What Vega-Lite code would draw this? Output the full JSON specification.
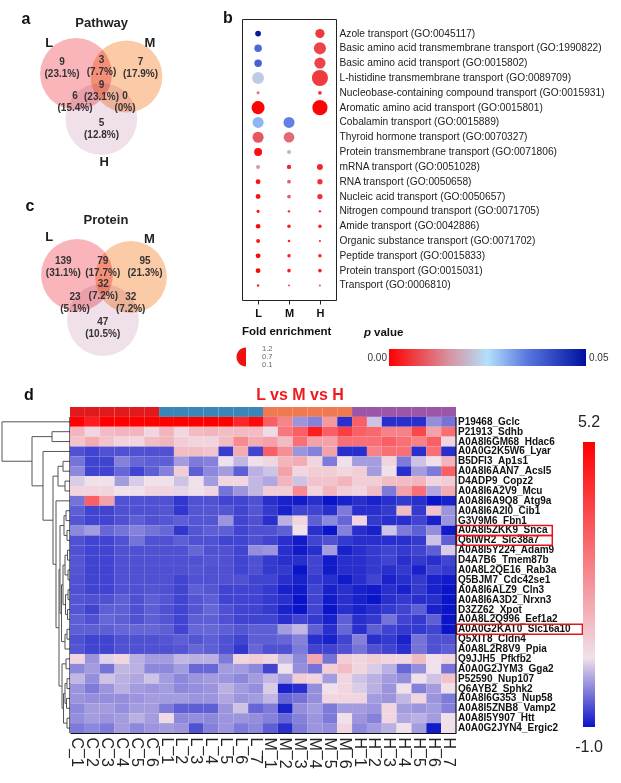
{
"$schema":"https://vega.github.io/schema/vega-lite/v6.json",
"padding":0,
"background":"white",
"usermeta":{"embedOptions":{"actions":false}},
"config":{"font":"Liberation Sans","view":{"stroke":null},"text":{"font":"Liberation Sans"},"axis":{"labelFont":"Liberation Sans"},"title":{"font":"Liberation Sans"}},
"resolve":{"scale":{"color":"independent","fill":"independent","size":"independent"},"legend":{"color":"independent","fill":"independent","size":"independent"}},
"spacing":2,
"vconcat":[
{"hconcat":[
 {"width":236,"height":385,
  "encoding":{"x":{"field":"x","type":"quantitative","scale":{"domain":[0,236],"nice":false},"axis":null},"y":{"field":"y","type":"quantitative","scale":{"domain":[0,385],"reverse":true,"nice":false},"axis":null}},
  "layer":[
   {"data":{"values":[{"set":"L","x":76,"y":74},{"set":"M","x":126.5,"y":76.5},{"set":"H","x":101.3,"y":119},{"set":"L","x":77,"y":275},{"set":"M","x":131,"y":277},{"set":"H","x":103,"y":320}]},
    "mark":{"type":"point","shape":"circle","filled":true,"opacity":1,"size":5153,"blend":"multiply","strokeWidth":0},
    "encoding":{"fill":{"field":"set","type":"nominal","scale":{"domain":["L","M","H"],"range":["#f9b5b9","#fbcaa6","#f0e0ea"]},"legend":null}}},
   {"data":{"name":"vcounts","values":[{"x":62,"y":61.5,"n":"9","pct":"(23.1%)"},{"x":101.5,"y":60,"n":"3","pct":"(7.7%)"},{"x":140.5,"y":62,"n":"7","pct":"(17.9%)"},{"x":101.5,"y":84.5,"n":"9","pct":"(23.1%)"},{"x":75,"y":95.5,"n":"6","pct":"(15.4%)"},{"x":125,"y":96,"n":"0","pct":"(0%)"},{"x":101.5,"y":122.5,"n":"5","pct":"(12.8%)"},{"x":63.3,"y":260.7,"n":"139","pct":"(31.1%)"},{"x":102.7,"y":260.7,"n":"79","pct":"(17.7%)"},{"x":145,"y":260.7,"n":"95","pct":"(21.3%)"},{"x":103.3,"y":284,"n":"32","pct":"(7.2%)"},{"x":75,"y":296.7,"n":"23","pct":"(5.1%)"},{"x":130.7,"y":296.7,"n":"32","pct":"(7.2%)"},{"x":102.7,"y":321.7,"n":"47","pct":"(10.5%)"}]},
    "mark":{"type":"text","fontSize":10,"fontWeight":"bold","color":"#333","baseline":"middle","align":"center"},
    "encoding":{"text":{"field":"n"}}},
   {"data":{"name":"vcounts"},
    "mark":{"type":"text","fontSize":10,"fontWeight":"bold","color":"#333","baseline":"middle","align":"center","dy":12},
    "encoding":{"text":{"field":"pct"}}},
   {"data":{"values":[{"x":101.7,"y":23.3,"t":"Pathway"},{"x":49.3,"y":43.3,"t":"L"},{"x":150,"y":43.3,"t":"M"},{"x":104.3,"y":162.3,"t":"H"},{"x":106,"y":220,"t":"Protein"},{"x":49.3,"y":237.3,"t":"L"},{"x":149.3,"y":239.3,"t":"M"}]},
    "mark":{"type":"text","fontSize":13,"fontWeight":"bold","color":"#222","baseline":"middle","align":"center"},
    "encoding":{"text":{"field":"t"}}},
   {"data":{"values":[{"x":26,"y":19,"t":"a"},{"x":228,"y":18,"t":"b"},{"x":30,"y":206,"t":"c"}]},
    "mark":{"type":"text","fontSize":16,"fontWeight":"bold","color":"#111","baseline":"middle","align":"center"},
    "encoding":{"text":{"field":"t"}}}
  ]},
 {"vconcat":[
   {"width":94,"height":19,"data":{"values":[{}]},"mark":{"type":"point","opacity":0},"encoding":{}},
   {"width":94,"height":281,
    "view":{"stroke":"#222","strokeWidth":1},
    "data":{"values":[
{"t":"Azole transport (GO:0045117)","grp":"L","fe":0.14,"p":0.049},
{"t":"Azole transport (GO:0045117)","grp":"H","fe":0.36,"p":0.006},
{"t":"Basic amino acid transmembrane transport (GO:1990822)","grp":"L","fe":0.24,"p":0.037},
{"t":"Basic amino acid transmembrane transport (GO:1990822)","grp":"H","fe":0.62,"p":0.007},
{"t":"Basic amino acid transport (GO:0015802)","grp":"L","fe":0.24,"p":0.038},
{"t":"Basic amino acid transport (GO:0015802)","grp":"H","fe":0.53,"p":0.007},
{"t":"L-histidine transmembrane transport (GO:0089709)","grp":"L","fe":0.6,"p":0.0225},
{"t":"L-histidine transmembrane transport (GO:0089709)","grp":"H","fe":1.1,"p":0.006},
{"t":"Nucleobase-containing compound transport (GO:0015931)","grp":"L","fe":0.04,"p":0.012},
{"t":"Nucleobase-containing compound transport (GO:0015931)","grp":"H","fe":0.06,"p":0.005},
{"t":"Aromatic amino acid transport (GO:0015801)","grp":"L","fe":0.72,"p":0.0005},
{"t":"Aromatic amino acid transport (GO:0015801)","grp":"H","fe":0.98,"p":0.0005},
{"t":"Cobalamin transport (GO:0015889)","grp":"L","fe":0.52,"p":0.029},
{"t":"Cobalamin transport (GO:0015889)","grp":"M","fe":0.52,"p":0.034},
{"t":"Thyroid hormone transport (GO:0070327)","grp":"L","fe":0.52,"p":0.009},
{"t":"Thyroid hormone transport (GO:0070327)","grp":"M","fe":0.48,"p":0.011},
{"t":"Protein transmembrane transport (GO:0071806)","grp":"L","fe":0.27,"p":0.0015},
{"t":"Protein transmembrane transport (GO:0071806)","grp":"M","fe":0.07,"p":0.019},
{"t":"mRNA transport (GO:0051028)","grp":"L","fe":0.07,"p":0.016},
{"t":"mRNA transport (GO:0051028)","grp":"M","fe":0.08,"p":0.004},
{"t":"mRNA transport (GO:0051028)","grp":"H","fe":0.15,"p":0.004},
{"t":"RNA transport (GO:0050658)","grp":"L","fe":0.1,"p":0.002},
{"t":"RNA transport (GO:0050658)","grp":"M","fe":0.06,"p":0.01},
{"t":"RNA transport (GO:0050658)","grp":"H","fe":0.12,"p":0.005},
{"t":"Nucleic acid transport (GO:0050657)","grp":"L","fe":0.1,"p":0.002},
{"t":"Nucleic acid transport (GO:0050657)","grp":"M","fe":0.06,"p":0.01},
{"t":"Nucleic acid transport (GO:0050657)","grp":"H","fe":0.12,"p":0.005},
{"t":"Nitrogen compound transport (GO:0071705)","grp":"L","fe":0.045,"p":0.002},
{"t":"Nitrogen compound transport (GO:0071705)","grp":"M","fe":0.025,"p":0.004},
{"t":"Nitrogen compound transport (GO:0071705)","grp":"H","fe":0.025,"p":0.003},
{"t":"Amide transport (GO:0042886)","grp":"L","fe":0.09,"p":0.001},
{"t":"Amide transport (GO:0042886)","grp":"M","fe":0.05,"p":0.003},
{"t":"Amide transport (GO:0042886)","grp":"H","fe":0.05,"p":0.003},
{"t":"Organic substance transport (GO:0071702)","grp":"L","fe":0.065,"p":0.002},
{"t":"Organic substance transport (GO:0071702)","grp":"M","fe":0.03,"p":0.004},
{"t":"Organic substance transport (GO:0071702)","grp":"H","fe":0.02,"p":0.004},
{"t":"Peptide transport (GO:0015833)","grp":"L","fe":0.1,"p":0.001},
{"t":"Peptide transport (GO:0015833)","grp":"M","fe":0.05,"p":0.003},
{"t":"Peptide transport (GO:0015833)","grp":"H","fe":0.05,"p":0.003},
{"t":"Protein transport (GO:0015031)","grp":"L","fe":0.1,"p":0.001},
{"t":"Protein transport (GO:0015031)","grp":"M","fe":0.055,"p":0.003},
{"t":"Protein transport (GO:0015031)","grp":"H","fe":0.055,"p":0.003},
{"t":"Transport (GO:0006810)","grp":"L","fe":0.025,"p":0.003},
{"t":"Transport (GO:0006810)","grp":"M","fe":0.013,"p":0.004},
{"t":"Transport (GO:0006810)","grp":"H","fe":0.013,"p":0.004}
    ]},
    "mark":{"type":"circle","opacity":1},
    "encoding":{
     "x":{"field":"grp","type":"nominal","scale":{"type":"point","domain":["L","M","H"],"padding":0.52},"axis":{"orient":"bottom","title":null,"labelAngle":0,"labelFontWeight":"bold","labelFontSize":11,"labelColor":"#111","domain":false,"ticks":true,"tickSize":4,"tickColor":"#222","labelPadding":3}},
     "y":{"field":"t","type":"nominal","sort":null,"scale":{"type":"band","paddingInner":0,"paddingOuter":0.48},"axis":{"orient":"right","title":null,"domain":false,"ticks":false,"labelFontSize":10.2,"labelColor":"#222","labelPadding":3,"labelLimit":400}},
     "size":{"field":"fe","type":"quantitative","scale":{"domain":[0,1.2],"range":[0,283]},"legend":null},
     "color":{"field":"p","type":"quantitative","scale":{"domain":[0,0.015,0.025,0.035,0.05],"range":["#ff0000","#d8909e","#b4e0fb","#5878e0","#0010a0"],"interpolate":"rgb"},"legend":{"orient":"none","legendX":147,"legendY":330,"direction":"horizontal","gradientLength":197,"gradientThickness":17,"title":null,"labelOpacity":0,"gradientStrokeWidth":0}}
    }},
   {"width":370,"height":72,
    "encoding":{"x":{"field":"x","type":"quantitative","scale":{"domain":[0,370],"nice":false},"axis":null},"y":{"field":"y","type":"quantitative","scale":{"domain":[0,72],"reverse":true,"nice":false},"axis":null}},
    "layer":[
     {"data":{"values":[{"x":0,"y":32,"t":"Fold enrichment"},{"x":132,"y":33,"t":"value"}]},"mark":{"type":"text","align":"left","baseline":"middle","fontWeight":"bold","fontSize":11.5,"color":"#111"},"encoding":{"text":{"field":"t"}}},
     {"data":{"values":[{"x":122,"y":33,"t":"p"}]},"mark":{"type":"text","align":"left","baseline":"middle","fontWeight":"bold","fontStyle":"italic","fontSize":11.5,"color":"#111"},"encoding":{"text":{"field":"t"}}},
     {"data":{"values":[{"x":145,"y":58,"t":"0.00"}]},"mark":{"type":"text","align":"right","baseline":"middle","fontSize":10,"color":"#333"},"encoding":{"text":{"field":"t"}}},
     {"data":{"values":[{"x":347,"y":58,"t":"0.05"}]},"mark":{"type":"text","align":"left","baseline":"middle","fontSize":10,"color":"#333"},"encoding":{"text":{"field":"t"}}},
     {"data":{"values":[{"x":20,"y":49,"t":"1.2"},{"x":20,"y":57,"t":"0.7"},{"x":20,"y":65,"t":"0.1"}]},"mark":{"type":"text","align":"left","baseline":"middle","fontSize":7.5,"color":"#666"},"encoding":{"text":{"field":"t"}}},
     {"data":{"values":[{"x":4,"y":57}]},"mark":{"type":"point","shape":"M0,-1A1,1,0,0,0,0,1Z","filled":true,"opacity":1,"size":361,"color":"#ee1111","strokeWidth":0}}
    ]}
  ],"spacing":0,"bounds":"flush","resolve":{"scale":{"color":"independent","size":"independent"}}}
],"spacing":0,"resolve":{"scale":{"color":"independent","fill":"independent","size":"independent"},"legend":{"color":"independent","fill":"independent","size":"independent"}}},
{"hconcat":[
 {"width":70,"height":326,
  "title":{"text":"d","anchor":"start","dx":24,"fontSize":16,"fontWeight":"bold","color":"#111","offset":4},
  "data":{"values":[
{"h":68,"a":0,"b":3.99,"ha":0,"hb":38},{"h":38,"a":1.5,"b":6.48,"ha":18,"hb":27},{"h":18,"a":1,"b":2,"ha":0,"hb":0},{"h":27,"a":3,"b":9.96,"ha":0,"hb":17},{"h":17,"a":5.5,"b":14.42,"ha":12,"hb":14},{"h":12,"a":4.5,"b":6.5,"ha":7,"hb":5},{"h":7,"a":4,"b":5,"ha":0,"hb":0},{"h":5,"a":6,"b":7,"ha":0,"hb":0},{"h":14,"a":8,"b":20.84,"ha":0,"hb":11},{"h":11,"a":14.94,"b":26.75,"ha":10,"hb":8},{"h":10,"a":10.5,"b":19.38,"ha":6,"hb":8.5},{"h":6,"a":9.5,"b":11.5,"ha":4,"hb":3},{"h":4,"a":9,"b":10,"ha":0,"hb":0},{"h":3,"a":11,"b":12,"ha":0,"hb":0},{"h":8.5,"a":16.5,"b":22.25,"ha":7,"hb":5},{"h":7,"a":14.5,"b":18.5,"ha":5,"hb":4.5},{"h":5,"a":13.5,"b":15.5,"ha":2.5,"hb":2},{"h":2.5,"a":13,"b":14,"ha":0,"hb":0},{"h":2,"a":15,"b":16,"ha":0,"hb":0},{"h":4.5,"a":17.5,"b":19.5,"ha":2,"hb":2.5},{"h":2,"a":17,"b":18,"ha":0,"hb":0},{"h":2.5,"a":19,"b":20,"ha":0,"hb":0},{"h":5,"a":21.5,"b":23,"ha":3,"hb":0},{"h":3,"a":21,"b":22,"ha":0,"hb":0},{"h":8,"a":24.5,"b":29,"ha":4,"hb":6.5},{"h":4,"a":24,"b":25,"ha":0,"hb":0},{"h":6.5,"a":27.5,"b":30.5,"ha":5,"hb":3},{"h":5,"a":26.5,"b":28.5,"ha":3,"hb":3.5},{"h":3,"a":26,"b":27,"ha":0,"hb":0},{"h":3.5,"a":28,"b":29,"ha":0,"hb":0},{"h":3,"a":30,"b":31,"ha":0,"hb":0}
  ]},
  "encoding":{"x":{"field":"h","type":"quantitative","scale":{"domain":[0,70],"reverse":true,"nice":false},"axis":null},"y":{"field":"a","type":"quantitative","scale":{"domain":[-1.5,31.5],"reverse":true,"nice":false,"zero":false},"axis":null}},
  "layer":[
   {"mark":{"type":"rule","color":"#555","strokeWidth":1},"encoding":{"y2":{"field":"b"}}},
   {"mark":{"type":"rule","color":"#555","strokeWidth":1},"encoding":{"x2":{"field":"ha"}}},
   {"mark":{"type":"rule","color":"#555","strokeWidth":1},"encoding":{"y":{"field":"b","type":"quantitative"},"x2":{"field":"hb"}}},
   {"data":{"values":[{"h":0,"a":-0.5,"b":31.5}]},"mark":{"type":"rule","color":"#111","strokeWidth":1.2},"encoding":{"y2":{"field":"b"}}}
  ]},
 {"width":386,"height":326,
  "title":{"text":"L vs M vs H","anchor":"middle","dx":37,"fontSize":16,"fontWeight":"bold","color":"#f0191e","offset":4},
  "encoding":{"x":{"field":"s","type":"nominal","scale":{"type":"band","domain":["C_1","C_2","C_3","C_4","C_5","C_6","L_1","L_2","L_3","L_4","L_5","L_6","L_7","M_1","M_2","M_3","M_4","M_5","M_6","H_1","H_2","H_3","H_4","H_5","H_6","H_7"],"paddingInner":0,"paddingOuter":0},"axis":{"orient":"bottom","title":null,"labelAngle":90,"labelFontSize":16,"labelColor":"#222","ticks":false,"domain":true,"domainColor":"#111","domainWidth":1,"labelPadding":4}}},
  "layer":[
   {"data":{"values":[{"s":"C_1","grp":"C"},{"s":"C_2","grp":"C"},{"s":"C_3","grp":"C"},{"s":"C_4","grp":"C"},{"s":"C_5","grp":"C"},{"s":"C_6","grp":"C"},{"s":"L_1","grp":"L"},{"s":"L_2","grp":"L"},{"s":"L_3","grp":"L"},{"s":"L_4","grp":"L"},{"s":"L_5","grp":"L"},{"s":"L_6","grp":"L"},{"s":"L_7","grp":"L"},{"s":"M_1","grp":"M"},{"s":"M_2","grp":"M"},{"s":"M_3","grp":"M"},{"s":"M_4","grp":"M"},{"s":"M_5","grp":"M"},{"s":"M_6","grp":"M"},{"s":"H_1","grp":"H"},{"s":"H_2","grp":"H"},{"s":"H_3","grp":"H"},{"s":"H_4","grp":"H"},{"s":"H_5","grp":"H"},{"s":"H_6","grp":"H"},{"s":"H_7","grp":"H"}]},
    "mark":{"type":"rect"},
    "encoding":{"y":{"datum":"_annot","type":"nominal","axis":null},"fill":{"field":"grp","type":"nominal","scale":{"domain":["C","L","M","H"],"range":["#e0191c","#3a86b8","#ee7a52","#9b56a8"]},"legend":null}}},
   {"data":{"values":[
{"g":"Gclc","s":"C_1","v":5.2},{"g":"Gclc","s":"C_2","v":4.6},{"g":"Gclc","s":"C_3","v":5.2},{"g":"Gclc","s":"C_4","v":5.2},{"g":"Gclc","s":"C_5","v":5.2},{"g":"Gclc","s":"C_6","v":5.2},{"g":"Gclc","s":"L_1","v":5.2},{"g":"Gclc","s":"L_2","v":5.2},{"g":"Gclc","s":"L_3","v":5.2},{"g":"Gclc","s":"L_4","v":5.2},{"g":"Gclc","s":"L_5","v":5.2},{"g":"Gclc","s":"L_6","v":4.4},{"g":"Gclc","s":"L_7","v":5.0},{"g":"Gclc","s":"M_1","v":3.2},{"g":"Gclc","s":"M_2","v":2.4},{"g":"Gclc","s":"M_3","v":-0.05},{"g":"Gclc","s":"M_4","v":-0.2},{"g":"Gclc","s":"M_5","v":2.0},{"g":"Gclc","s":"M_6","v":-0.8},{"g":"Gclc","s":"H_1","v":3.2},{"g":"Gclc","s":"H_2","v":0.28},{"g":"Gclc","s":"H_3","v":-0.8},{"g":"Gclc","s":"H_4","v":-0.8},{"g":"Gclc","s":"H_5","v":-0.8},{"g":"Gclc","s":"H_6","v":-0.1},{"g":"Gclc","s":"H_7","v":-0.3},
{"g":"Sdhb","s":"C_1","v":1.4},{"g":"Sdhb","s":"C_2","v":0.7},{"g":"Sdhb","s":"C_3","v":1.25},{"g":"Sdhb","s":"C_4","v":1.4},{"g":"Sdhb","s":"C_5","v":1.4},{"g":"Sdhb","s":"C_6","v":0.7},{"g":"Sdhb","s":"L_1","v":1.4},{"g":"Sdhb","s":"L_2","v":0.7},{"g":"Sdhb","s":"L_3","v":1.3},{"g":"Sdhb","s":"L_4","v":1.4},{"g":"Sdhb","s":"L_5","v":1.25},{"g":"Sdhb","s":"L_6","v":1.3},{"g":"Sdhb","s":"L_7","v":1.25},{"g":"Sdhb","s":"M_1","v":0.6},{"g":"Sdhb","s":"M_2","v":2.7},{"g":"Sdhb","s":"M_3","v":3.2},{"g":"Sdhb","s":"M_4","v":4.6},{"g":"Sdhb","s":"M_5","v":3.2},{"g":"Sdhb","s":"M_6","v":3.9},{"g":"Sdhb","s":"H_1","v":3.2},{"g":"Sdhb","s":"H_2","v":3.0},{"g":"Sdhb","s":"H_3","v":2.5},{"g":"Sdhb","s":"H_4","v":2.5},{"g":"Sdhb","s":"H_5","v":3.7},{"g":"Sdhb","s":"H_6","v":1.8},{"g":"Sdhb","s":"H_7","v":2.85},
{"g":"Hdac6","s":"C_1","v":1.1},{"g":"Hdac6","s":"C_2","v":1.6},{"g":"Hdac6","s":"C_3","v":1.1},{"g":"Hdac6","s":"C_4","v":0.75},{"g":"Hdac6","s":"C_5","v":0.7},{"g":"Hdac6","s":"C_6","v":1.25},{"g":"Hdac6","s":"L_1","v":1.4},{"g":"Hdac6","s":"L_2","v":0.9},{"g":"Hdac6","s":"L_3","v":0.75},{"g":"Hdac6","s":"L_4","v":0.75},{"g":"Hdac6","s":"L_5","v":1.25},{"g":"Hdac6","s":"L_6","v":2.3},{"g":"Hdac6","s":"L_7","v":1.6},{"g":"Hdac6","s":"M_1","v":1.8},{"g":"Hdac6","s":"M_2","v":1.25},{"g":"Hdac6","s":"M_3","v":2.85},{"g":"Hdac6","s":"M_4","v":1.8},{"g":"Hdac6","s":"M_5","v":1.8},{"g":"Hdac6","s":"M_6","v":2.85},{"g":"Hdac6","s":"H_1","v":2.85},{"g":"Hdac6","s":"H_2","v":2.85},{"g":"Hdac6","s":"H_3","v":3.2},{"g":"Hdac6","s":"H_4","v":2.85},{"g":"Hdac6","s":"H_5","v":2.5},{"g":"Hdac6","s":"H_6","v":3.2},{"g":"Hdac6","s":"H_7","v":0.7},
{"g":"Lyar","s":"C_1","v":-0.55},{"g":"Lyar","s":"C_2","v":-0.65},{"g":"Lyar","s":"C_3","v":-0.55},{"g":"Lyar","s":"C_4","v":-0.55},{"g":"Lyar","s":"C_5","v":-0.55},{"g":"Lyar","s":"C_6","v":-0.55},{"g":"Lyar","s":"L_1","v":-0.55},{"g":"Lyar","s":"L_2","v":1.25},{"g":"Lyar","s":"L_3","v":1.25},{"g":"Lyar","s":"L_4","v":1.1},{"g":"Lyar","s":"L_5","v":-0.7},{"g":"Lyar","s":"L_6","v":1.6},{"g":"Lyar","s":"L_7","v":-0.65},{"g":"Lyar","s":"M_1","v":3.2},{"g":"Lyar","s":"M_2","v":2.2},{"g":"Lyar","s":"M_3","v":-0.05},{"g":"Lyar","s":"M_4","v":-0.2},{"g":"Lyar","s":"M_5","v":1.8},{"g":"Lyar","s":"M_6","v":-0.8},{"g":"Lyar","s":"H_1","v":-0.8},{"g":"Lyar","s":"H_2","v":2.5},{"g":"Lyar","s":"H_3","v":2.85},{"g":"Lyar","s":"H_4","v":2.85},{"g":"Lyar","s":"H_5","v":-0.8},{"g":"Lyar","s":"H_6","v":2.85},{"g":"Lyar","s":"H_7","v":-0.8},
{"g":"Ap1s1","s":"C_1","v":-0.3},{"g":"Ap1s1","s":"C_2","v":-0.65},{"g":"Ap1s1","s":"C_3","v":-0.65},{"g":"Ap1s1","s":"C_4","v":-0.2},{"g":"Ap1s1","s":"C_5","v":-0.4},{"g":"Ap1s1","s":"C_6","v":-0.45},{"g":"Ap1s1","s":"L_1","v":-0.45},{"g":"Ap1s1","s":"L_2","v":0.0},{"g":"Ap1s1","s":"L_3","v":-0.25},{"g":"Ap1s1","s":"L_4","v":-0.2},{"g":"Ap1s1","s":"L_5","v":0.5},{"g":"Ap1s1","s":"L_6","v":0.2},{"g":"Ap1s1","s":"L_7","v":0.5},{"g":"Ap1s1","s":"M_1","v":0.7},{"g":"Ap1s1","s":"M_2","v":1.4},{"g":"Ap1s1","s":"M_3","v":1.6},{"g":"Ap1s1","s":"M_4","v":0.7},{"g":"Ap1s1","s":"M_5","v":-0.25},{"g":"Ap1s1","s":"M_6","v":0.5},{"g":"Ap1s1","s":"H_1","v":0.0},{"g":"Ap1s1","s":"H_2","v":0.0},{"g":"Ap1s1","s":"H_3","v":0.75},{"g":"Ap1s1","s":"H_4","v":-0.25},{"g":"Ap1s1","s":"H_5","v":0.28},{"g":"Ap1s1","s":"H_6","v":0.5},{"g":"Ap1s1","s":"H_7","v":1.4},
{"g":"Acsl5","s":"C_1","v":-0.15},{"g":"Acsl5","s":"C_2","v":-0.65},{"g":"Acsl5","s":"C_3","v":-0.65},{"g":"Acsl5","s":"C_4","v":-0.4},{"g":"Acsl5","s":"C_5","v":-0.65},{"g":"Acsl5","s":"C_6","v":-0.45},{"g":"Acsl5","s":"L_1","v":-0.2},{"g":"Acsl5","s":"L_2","v":0.9},{"g":"Acsl5","s":"L_3","v":-0.45},{"g":"Acsl5","s":"L_4","v":-0.15},{"g":"Acsl5","s":"L_5","v":0.0},{"g":"Acsl5","s":"L_6","v":-0.45},{"g":"Acsl5","s":"L_7","v":0.15},{"g":"Acsl5","s":"M_1","v":0.28},{"g":"Acsl5","s":"M_2","v":1.8},{"g":"Acsl5","s":"M_3","v":0.7},{"g":"Acsl5","s":"M_4","v":0.9},{"g":"Acsl5","s":"M_5","v":0.9},{"g":"Acsl5","s":"M_6","v":0.7},{"g":"Acsl5","s":"H_1","v":0.9},{"g":"Acsl5","s":"H_2","v":0.0},{"g":"Acsl5","s":"H_3","v":0.5},{"g":"Acsl5","s":"H_4","v":-0.8},{"g":"Acsl5","s":"H_5","v":0.0},{"g":"Acsl5","s":"H_6","v":-0.25},{"g":"Acsl5","s":"H_7","v":3.2},
{"g":"Copz2","s":"C_1","v":0.35},{"g":"Copz2","s":"C_2","v":0.5},{"g":"Copz2","s":"C_3","v":0.5},{"g":"Copz2","s":"C_4","v":0.0},{"g":"Copz2","s":"C_5","v":0.35},{"g":"Copz2","s":"C_6","v":0.5},{"g":"Copz2","s":"L_1","v":0.5},{"g":"Copz2","s":"L_2","v":0.28},{"g":"Copz2","s":"L_3","v":0.5},{"g":"Copz2","s":"L_4","v":0.0},{"g":"Copz2","s":"L_5","v":0.7},{"g":"Copz2","s":"L_6","v":0.7},{"g":"Copz2","s":"L_7","v":0.2},{"g":"Copz2","s":"M_1","v":0.08},{"g":"Copz2","s":"M_2","v":1.4},{"g":"Copz2","s":"M_3","v":0.28},{"g":"Copz2","s":"M_4","v":1.1},{"g":"Copz2","s":"M_5","v":1.1},{"g":"Copz2","s":"M_6","v":1.4},{"g":"Copz2","s":"H_1","v":0.9},{"g":"Copz2","s":"H_2","v":0.9},{"g":"Copz2","s":"H_3","v":1.25},{"g":"Copz2","s":"H_4","v":1.25},{"g":"Copz2","s":"H_5","v":1.4},{"g":"Copz2","s":"H_6","v":0.75},{"g":"Copz2","s":"H_7","v":0.9},
{"g":"Mcu","s":"C_1","v":0.75},{"g":"Mcu","s":"C_2","v":0.75},{"g":"Mcu","s":"C_3","v":0.75},{"g":"Mcu","s":"C_4","v":0.5},{"g":"Mcu","s":"C_5","v":0.5},{"g":"Mcu","s":"C_6","v":0.75},{"g":"Mcu","s":"L_1","v":0.75},{"g":"Mcu","s":"L_2","v":0.42},{"g":"Mcu","s":"L_3","v":0.5},{"g":"Mcu","s":"L_4","v":0.7},{"g":"Mcu","s":"L_5","v":-0.3},{"g":"Mcu","s":"L_6","v":-0.05},{"g":"Mcu","s":"L_7","v":0.2},{"g":"Mcu","s":"M_1","v":0.9},{"g":"Mcu","s":"M_2","v":0.9},{"g":"Mcu","s":"M_3","v":2.3},{"g":"Mcu","s":"M_4","v":0.75},{"g":"Mcu","s":"M_5","v":1.4},{"g":"Mcu","s":"M_6","v":0.9},{"g":"Mcu","s":"H_1","v":0.75},{"g":"Mcu","s":"H_2","v":1.25},{"g":"Mcu","s":"H_3","v":-0.25},{"g":"Mcu","s":"H_4","v":1.8},{"g":"Mcu","s":"H_5","v":2.85},{"g":"Mcu","s":"H_6","v":0.08},{"g":"Mcu","s":"H_7","v":1.6},
{"g":"Atg9a","s":"C_1","v":-0.3},{"g":"Atg9a","s":"C_2","v":3.2},{"g":"Atg9a","s":"C_3","v":1.8},{"g":"Atg9a","s":"C_4","v":-0.55},{"g":"Atg9a","s":"C_5","v":-0.55},{"g":"Atg9a","s":"C_6","v":-0.55},{"g":"Atg9a","s":"L_1","v":-0.55},{"g":"Atg9a","s":"L_2","v":-0.75},{"g":"Atg9a","s":"L_3","v":-0.55},{"g":"Atg9a","s":"L_4","v":-0.55},{"g":"Atg9a","s":"L_5","v":-0.65},{"g":"Atg9a","s":"L_6","v":-0.65},{"g":"Atg9a","s":"L_7","v":-0.55},{"g":"Atg9a","s":"M_1","v":-0.8},{"g":"Atg9a","s":"M_2","v":-0.9},{"g":"Atg9a","s":"M_3","v":-0.95},{"g":"Atg9a","s":"M_4","v":-0.8},{"g":"Atg9a","s":"M_5","v":-1.0},{"g":"Atg9a","s":"M_6","v":-0.9},{"g":"Atg9a","s":"H_1","v":-0.8},{"g":"Atg9a","s":"H_2","v":-0.9},{"g":"Atg9a","s":"H_3","v":-0.8},{"g":"Atg9a","s":"H_4","v":-0.72},{"g":"Atg9a","s":"H_5","v":-0.8},{"g":"Atg9a","s":"H_6","v":-1.0},{"g":"Atg9a","s":"H_7","v":-0.9},
{"g":"Cib1","s":"C_1","v":-0.45},{"g":"Cib1","s":"C_2","v":-0.65},{"g":"Cib1","s":"C_3","v":-0.65},{"g":"Cib1","s":"C_4","v":-0.55},{"g":"Cib1","s":"C_5","v":-0.55},{"g":"Cib1","s":"C_6","v":-0.55},{"g":"Cib1","s":"L_1","v":-0.52},{"g":"Cib1","s":"L_2","v":-0.75},{"g":"Cib1","s":"L_3","v":-0.52},{"g":"Cib1","s":"L_4","v":-0.52},{"g":"Cib1","s":"L_5","v":-0.52},{"g":"Cib1","s":"L_6","v":-0.65},{"g":"Cib1","s":"L_7","v":-0.52},{"g":"Cib1","s":"M_1","v":-0.72},{"g":"Cib1","s":"M_2","v":-0.9},{"g":"Cib1","s":"M_3","v":-0.65},{"g":"Cib1","s":"M_4","v":-0.65},{"g":"Cib1","s":"M_5","v":-0.8},{"g":"Cib1","s":"M_6","v":-0.25},{"g":"Cib1","s":"H_1","v":-0.8},{"g":"Cib1","s":"H_2","v":-0.8},{"g":"Cib1","s":"H_3","v":-0.72},{"g":"Cib1","s":"H_4","v":1.25},{"g":"Cib1","s":"H_5","v":-0.72},{"g":"Cib1","s":"H_6","v":1.1},{"g":"Cib1","s":"H_7","v":-0.05},
{"g":"Fbn1","s":"C_1","v":-0.52},{"g":"Fbn1","s":"C_2","v":-0.65},{"g":"Fbn1","s":"C_3","v":-0.65},{"g":"Fbn1","s":"C_4","v":-0.55},{"g":"Fbn1","s":"C_5","v":-0.45},{"g":"Fbn1","s":"C_6","v":-0.55},{"g":"Fbn1","s":"L_1","v":-0.52},{"g":"Fbn1","s":"L_2","v":-0.45},{"g":"Fbn1","s":"L_3","v":-0.52},{"g":"Fbn1","s":"L_4","v":-0.52},{"g":"Fbn1","s":"L_5","v":-0.05},{"g":"Fbn1","s":"L_6","v":-0.65},{"g":"Fbn1","s":"L_7","v":-0.55},{"g":"Fbn1","s":"M_1","v":-0.8},{"g":"Fbn1","s":"M_2","v":0.15},{"g":"Fbn1","s":"M_3","v":0.75},{"g":"Fbn1","s":"M_4","v":-0.45},{"g":"Fbn1","s":"M_5","v":-0.15},{"g":"Fbn1","s":"M_6","v":-0.4},{"g":"Fbn1","s":"H_1","v":0.7},{"g":"Fbn1","s":"H_2","v":-0.72},{"g":"Fbn1","s":"H_3","v":-0.8},{"g":"Fbn1","s":"H_4","v":-0.8},{"g":"Fbn1","s":"H_5","v":-0.65},{"g":"Fbn1","s":"H_6","v":-0.9},{"g":"Fbn1","s":"H_7","v":-0.05},
{"g":"Snca","s":"C_1","v":-0.15},{"g":"Snca","s":"C_2","v":0.0},{"g":"Snca","s":"C_3","v":-0.4},{"g":"Snca","s":"C_4","v":-0.3},{"g":"Snca","s":"C_5","v":-0.2},{"g":"Snca","s":"C_6","v":-0.3},{"g":"Snca","s":"L_1","v":-0.4},{"g":"Snca","s":"L_2","v":-0.75},{"g":"Snca","s":"L_3","v":-0.52},{"g":"Snca","s":"L_4","v":-0.45},{"g":"Snca","s":"L_5","v":-0.45},{"g":"Snca","s":"L_6","v":-0.65},{"g":"Snca","s":"L_7","v":-0.55},{"g":"Snca","s":"M_1","v":-0.55},{"g":"Snca","s":"M_2","v":-0.45},{"g":"Snca","s":"M_3","v":0.5},{"g":"Snca","s":"M_4","v":-0.8},{"g":"Snca","s":"M_5","v":-1.0},{"g":"Snca","s":"M_6","v":-0.2},{"g":"Snca","s":"H_1","v":-0.8},{"g":"Snca","s":"H_2","v":-0.9},{"g":"Snca","s":"H_3","v":0.28},{"g":"Snca","s":"H_4","v":-0.25},{"g":"Snca","s":"H_5","v":-0.45},{"g":"Snca","s":"H_6","v":-0.1},{"g":"Snca","s":"H_7","v":-0.95},
{"g":"Slc38a7","s":"C_1","v":-0.55},{"g":"Slc38a7","s":"C_2","v":-0.65},{"g":"Slc38a7","s":"C_3","v":-0.65},{"g":"Slc38a7","s":"C_4","v":-0.55},{"g":"Slc38a7","s":"C_5","v":-0.3},{"g":"Slc38a7","s":"C_6","v":-0.55},{"g":"Slc38a7","s":"L_1","v":-0.55},{"g":"Slc38a7","s":"L_2","v":-0.45},{"g":"Slc38a7","s":"L_3","v":-0.55},{"g":"Slc38a7","s":"L_4","v":-0.55},{"g":"Slc38a7","s":"L_5","v":-0.65},{"g":"Slc38a7","s":"L_6","v":-0.65},{"g":"Slc38a7","s":"L_7","v":-0.55},{"g":"Slc38a7","s":"M_1","v":-0.65},{"g":"Slc38a7","s":"M_2","v":-0.8},{"g":"Slc38a7","s":"M_3","v":-0.95},{"g":"Slc38a7","s":"M_4","v":-0.65},{"g":"Slc38a7","s":"M_5","v":-0.55},{"g":"Slc38a7","s":"M_6","v":-0.72},{"g":"Slc38a7","s":"H_1","v":-0.8},{"g":"Slc38a7","s":"H_2","v":-0.8},{"g":"Slc38a7","s":"H_3","v":-0.8},{"g":"Slc38a7","s":"H_4","v":-0.8},{"g":"Slc38a7","s":"H_5","v":-0.72},{"g":"Slc38a7","s":"H_6","v":0.28},{"g":"Slc38a7","s":"H_7","v":-0.45},
{"g":"Adam9","s":"C_1","v":-0.55},{"g":"Adam9","s":"C_2","v":-0.65},{"g":"Adam9","s":"C_3","v":-0.65},{"g":"Adam9","s":"C_4","v":-0.55},{"g":"Adam9","s":"C_5","v":-0.55},{"g":"Adam9","s":"C_6","v":-0.55},{"g":"Adam9","s":"L_1","v":-0.55},{"g":"Adam9","s":"L_2","v":-0.55},{"g":"Adam9","s":"L_3","v":-0.4},{"g":"Adam9","s":"L_4","v":-0.55},{"g":"Adam9","s":"L_5","v":-0.55},{"g":"Adam9","s":"L_6","v":-0.65},{"g":"Adam9","s":"L_7","v":-0.1},{"g":"Adam9","s":"M_1","v":-0.05},{"g":"Adam9","s":"M_2","v":-0.8},{"g":"Adam9","s":"M_3","v":-0.95},{"g":"Adam9","s":"M_4","v":-0.8},{"g":"Adam9","s":"M_5","v":0.0},{"g":"Adam9","s":"M_6","v":-0.9},{"g":"Adam9","s":"H_1","v":-0.8},{"g":"Adam9","s":"H_2","v":-0.72},{"g":"Adam9","s":"H_3","v":-0.65},{"g":"Adam9","s":"H_4","v":-0.72},{"g":"Adam9","s":"H_5","v":-0.65},{"g":"Adam9","s":"H_6","v":-0.45},{"g":"Adam9","s":"H_7","v":0.35},
{"g":"Tmem87b","s":"C_1","v":-0.52},{"g":"Tmem87b","s":"C_2","v":-0.65},{"g":"Tmem87b","s":"C_3","v":-0.65},{"g":"Tmem87b","s":"C_4","v":-0.55},{"g":"Tmem87b","s":"C_5","v":-0.55},{"g":"Tmem87b","s":"C_6","v":-0.55},{"g":"Tmem87b","s":"L_1","v":-0.55},{"g":"Tmem87b","s":"L_2","v":-0.55},{"g":"Tmem87b","s":"L_3","v":-0.55},{"g":"Tmem87b","s":"L_4","v":-0.52},{"g":"Tmem87b","s":"L_5","v":-0.55},{"g":"Tmem87b","s":"L_6","v":-0.65},{"g":"Tmem87b","s":"L_7","v":-0.55},{"g":"Tmem87b","s":"M_1","v":-0.72},{"g":"Tmem87b","s":"M_2","v":-0.8},{"g":"Tmem87b","s":"M_3","v":-0.8},{"g":"Tmem87b","s":"M_4","v":-0.65},{"g":"Tmem87b","s":"M_5","v":-0.95},{"g":"Tmem87b","s":"M_6","v":-0.8},{"g":"Tmem87b","s":"H_1","v":-0.8},{"g":"Tmem87b","s":"H_2","v":-0.72},{"g":"Tmem87b","s":"H_3","v":-0.65},{"g":"Tmem87b","s":"H_4","v":-0.8},{"g":"Tmem87b","s":"H_5","v":-0.72},{"g":"Tmem87b","s":"H_6","v":-0.8},{"g":"Tmem87b","s":"H_7","v":-0.65},
{"g":"Rab3a","s":"C_1","v":-0.52},{"g":"Rab3a","s":"C_2","v":-0.65},{"g":"Rab3a","s":"C_3","v":-0.65},{"g":"Rab3a","s":"C_4","v":-0.55},{"g":"Rab3a","s":"C_5","v":-0.55},{"g":"Rab3a","s":"C_6","v":-0.55},{"g":"Rab3a","s":"L_1","v":-0.55},{"g":"Rab3a","s":"L_2","v":-0.55},{"g":"Rab3a","s":"L_3","v":-0.52},{"g":"Rab3a","s":"L_4","v":-0.55},{"g":"Rab3a","s":"L_5","v":-0.55},{"g":"Rab3a","s":"L_6","v":-0.65},{"g":"Rab3a","s":"L_7","v":-0.55},{"g":"Rab3a","s":"M_1","v":-0.72},{"g":"Rab3a","s":"M_2","v":-0.72},{"g":"Rab3a","s":"M_3","v":-1.0},{"g":"Rab3a","s":"M_4","v":-0.65},{"g":"Rab3a","s":"M_5","v":-0.95},{"g":"Rab3a","s":"M_6","v":-0.8},{"g":"Rab3a","s":"H_1","v":-0.8},{"g":"Rab3a","s":"H_2","v":-0.72},{"g":"Rab3a","s":"H_3","v":-0.8},{"g":"Rab3a","s":"H_4","v":-0.72},{"g":"Rab3a","s":"H_5","v":-0.9},{"g":"Rab3a","s":"H_6","v":-0.65},{"g":"Rab3a","s":"H_7","v":-0.72},
{"g":"Cdc42se1","s":"C_1","v":-0.55},{"g":"Cdc42se1","s":"C_2","v":-0.65},{"g":"Cdc42se1","s":"C_3","v":-0.65},{"g":"Cdc42se1","s":"C_4","v":-0.55},{"g":"Cdc42se1","s":"C_5","v":-0.55},{"g":"Cdc42se1","s":"C_6","v":-0.55},{"g":"Cdc42se1","s":"L_1","v":-0.55},{"g":"Cdc42se1","s":"L_2","v":-0.65},{"g":"Cdc42se1","s":"L_3","v":-0.55},{"g":"Cdc42se1","s":"L_4","v":-0.55},{"g":"Cdc42se1","s":"L_5","v":-0.55},{"g":"Cdc42se1","s":"L_6","v":-0.55},{"g":"Cdc42se1","s":"L_7","v":-0.65},{"g":"Cdc42se1","s":"M_1","v":-0.65},{"g":"Cdc42se1","s":"M_2","v":-0.8},{"g":"Cdc42se1","s":"M_3","v":-0.9},{"g":"Cdc42se1","s":"M_4","v":-0.72},{"g":"Cdc42se1","s":"M_5","v":-0.8},{"g":"Cdc42se1","s":"M_6","v":-0.95},{"g":"Cdc42se1","s":"H_1","v":-0.8},{"g":"Cdc42se1","s":"H_2","v":-0.65},{"g":"Cdc42se1","s":"H_3","v":-0.9},{"g":"Cdc42se1","s":"H_4","v":-0.8},{"g":"Cdc42se1","s":"H_5","v":-0.72},{"g":"Cdc42se1","s":"H_6","v":-0.9},{"g":"Cdc42se1","s":"H_7","v":-0.95},
{"g":"Cln3","s":"C_1","v":-0.55},{"g":"Cln3","s":"C_2","v":-0.65},{"g":"Cln3","s":"C_3","v":-0.65},{"g":"Cln3","s":"C_4","v":-0.55},{"g":"Cln3","s":"C_5","v":-0.55},{"g":"Cln3","s":"C_6","v":-0.52},{"g":"Cln3","s":"L_1","v":-0.55},{"g":"Cln3","s":"L_2","v":-0.65},{"g":"Cln3","s":"L_3","v":-0.45},{"g":"Cln3","s":"L_4","v":-0.52},{"g":"Cln3","s":"L_5","v":-0.65},{"g":"Cln3","s":"L_6","v":-0.65},{"g":"Cln3","s":"L_7","v":-0.65},{"g":"Cln3","s":"M_1","v":-0.72},{"g":"Cln3","s":"M_2","v":-0.9},{"g":"Cln3","s":"M_3","v":-0.95},{"g":"Cln3","s":"M_4","v":-0.65},{"g":"Cln3","s":"M_5","v":-0.9},{"g":"Cln3","s":"M_6","v":-0.8},{"g":"Cln3","s":"H_1","v":-0.9},{"g":"Cln3","s":"H_2","v":-0.95},{"g":"Cln3","s":"H_3","v":-0.8},{"g":"Cln3","s":"H_4","v":-0.9},{"g":"Cln3","s":"H_5","v":-0.72},{"g":"Cln3","s":"H_6","v":-0.9},{"g":"Cln3","s":"H_7","v":-1.0},
{"g":"Nrxn3","s":"C_1","v":-0.52},{"g":"Nrxn3","s":"C_2","v":-0.55},{"g":"Nrxn3","s":"C_3","v":-0.55},{"g":"Nrxn3","s":"C_4","v":-0.45},{"g":"Nrxn3","s":"C_5","v":-0.55},{"g":"Nrxn3","s":"C_6","v":-0.45},{"g":"Nrxn3","s":"L_1","v":-0.52},{"g":"Nrxn3","s":"L_2","v":-0.65},{"g":"Nrxn3","s":"L_3","v":-0.52},{"g":"Nrxn3","s":"L_4","v":-0.45},{"g":"Nrxn3","s":"L_5","v":-0.65},{"g":"Nrxn3","s":"L_6","v":-0.65},{"g":"Nrxn3","s":"L_7","v":-0.65},{"g":"Nrxn3","s":"M_1","v":-0.72},{"g":"Nrxn3","s":"M_2","v":-0.8},{"g":"Nrxn3","s":"M_3","v":-1.0},{"g":"Nrxn3","s":"M_4","v":-0.65},{"g":"Nrxn3","s":"M_5","v":-0.95},{"g":"Nrxn3","s":"M_6","v":-0.8},{"g":"Nrxn3","s":"H_1","v":-0.9},{"g":"Nrxn3","s":"H_2","v":-1.0},{"g":"Nrxn3","s":"H_3","v":-0.8},{"g":"Nrxn3","s":"H_4","v":-0.72},{"g":"Nrxn3","s":"H_5","v":-0.8},{"g":"Nrxn3","s":"H_6","v":-0.8},{"g":"Nrxn3","s":"H_7","v":-1.0},
{"g":"Xpot","s":"C_1","v":-0.52},{"g":"Xpot","s":"C_2","v":-0.65},{"g":"Xpot","s":"C_3","v":-0.45},{"g":"Xpot","s":"C_4","v":-0.45},{"g":"Xpot","s":"C_5","v":-0.55},{"g":"Xpot","s":"C_6","v":-0.45},{"g":"Xpot","s":"L_1","v":-0.55},{"g":"Xpot","s":"L_2","v":-0.65},{"g":"Xpot","s":"L_3","v":-0.52},{"g":"Xpot","s":"L_4","v":-0.4},{"g":"Xpot","s":"L_5","v":-0.55},{"g":"Xpot","s":"L_6","v":-0.65},{"g":"Xpot","s":"L_7","v":-0.65},{"g":"Xpot","s":"M_1","v":-0.72},{"g":"Xpot","s":"M_2","v":-0.9},{"g":"Xpot","s":"M_3","v":-1.0},{"g":"Xpot","s":"M_4","v":-0.65},{"g":"Xpot","s":"M_5","v":-1.0},{"g":"Xpot","s":"M_6","v":-0.8},{"g":"Xpot","s":"H_1","v":-0.9},{"g":"Xpot","s":"H_2","v":-0.8},{"g":"Xpot","s":"H_3","v":-0.72},{"g":"Xpot","s":"H_4","v":-0.65},{"g":"Xpot","s":"H_5","v":-0.45},{"g":"Xpot","s":"H_6","v":-0.9},{"g":"Xpot","s":"H_7","v":-1.0},
{"g":"Eef1a2","s":"C_1","v":-0.45},{"g":"Eef1a2","s":"C_2","v":-0.55},{"g":"Eef1a2","s":"C_3","v":-0.4},{"g":"Eef1a2","s":"C_4","v":-0.45},{"g":"Eef1a2","s":"C_5","v":-0.55},{"g":"Eef1a2","s":"C_6","v":-0.45},{"g":"Eef1a2","s":"L_1","v":-0.52},{"g":"Eef1a2","s":"L_2","v":-0.65},{"g":"Eef1a2","s":"L_3","v":-0.45},{"g":"Eef1a2","s":"L_4","v":-0.45},{"g":"Eef1a2","s":"L_5","v":-0.55},{"g":"Eef1a2","s":"L_6","v":-0.65},{"g":"Eef1a2","s":"L_7","v":-0.65},{"g":"Eef1a2","s":"M_1","v":-0.65},{"g":"Eef1a2","s":"M_2","v":-0.8},{"g":"Eef1a2","s":"M_3","v":-0.65},{"g":"Eef1a2","s":"M_4","v":-0.72},{"g":"Eef1a2","s":"M_5","v":-0.9},{"g":"Eef1a2","s":"M_6","v":-0.45},{"g":"Eef1a2","s":"H_1","v":-0.8},{"g":"Eef1a2","s":"H_2","v":-0.72},{"g":"Eef1a2","s":"H_3","v":-0.3},{"g":"Eef1a2","s":"H_4","v":-0.65},{"g":"Eef1a2","s":"H_5","v":-0.72},{"g":"Eef1a2","s":"H_6","v":-0.45},{"g":"Eef1a2","s":"H_7","v":-1.0},
{"g":"Slc16a10","s":"C_1","v":-0.45},{"g":"Slc16a10","s":"C_2","v":-0.45},{"g":"Slc16a10","s":"C_3","v":-0.45},{"g":"Slc16a10","s":"C_4","v":-0.4},{"g":"Slc16a10","s":"C_5","v":-0.4},{"g":"Slc16a10","s":"C_6","v":-0.4},{"g":"Slc16a10","s":"L_1","v":-0.45},{"g":"Slc16a10","s":"L_2","v":-0.65},{"g":"Slc16a10","s":"L_3","v":-0.4},{"g":"Slc16a10","s":"L_4","v":-0.4},{"g":"Slc16a10","s":"L_5","v":-0.45},{"g":"Slc16a10","s":"L_6","v":-0.52},{"g":"Slc16a10","s":"L_7","v":-0.45},{"g":"Slc16a10","s":"M_1","v":-0.45},{"g":"Slc16a10","s":"M_2","v":0.0},{"g":"Slc16a10","s":"M_3","v":0.2},{"g":"Slc16a10","s":"M_4","v":-0.45},{"g":"Slc16a10","s":"M_5","v":-0.8},{"g":"Slc16a10","s":"M_6","v":-0.4},{"g":"Slc16a10","s":"H_1","v":-0.8},{"g":"Slc16a10","s":"H_2","v":-0.45},{"g":"Slc16a10","s":"H_3","v":-0.65},{"g":"Slc16a10","s":"H_4","v":-0.72},{"g":"Slc16a10","s":"H_5","v":-0.72},{"g":"Slc16a10","s":"H_6","v":-0.65},{"g":"Slc16a10","s":"H_7","v":-1.0},
{"g":"Cldn4","s":"C_1","v":-0.55},{"g":"Cldn4","s":"C_2","v":-0.65},{"g":"Cldn4","s":"C_3","v":-0.65},{"g":"Cldn4","s":"C_4","v":-0.55},{"g":"Cldn4","s":"C_5","v":-0.55},{"g":"Cldn4","s":"C_6","v":-0.55},{"g":"Cldn4","s":"L_1","v":-0.52},{"g":"Cldn4","s":"L_2","v":-0.45},{"g":"Cldn4","s":"L_3","v":-0.52},{"g":"Cldn4","s":"L_4","v":-0.45},{"g":"Cldn4","s":"L_5","v":-0.55},{"g":"Cldn4","s":"L_6","v":-0.65},{"g":"Cldn4","s":"L_7","v":-0.45},{"g":"Cldn4","s":"M_1","v":-0.45},{"g":"Cldn4","s":"M_2","v":-0.4},{"g":"Cldn4","s":"M_3","v":-0.2},{"g":"Cldn4","s":"M_4","v":-0.8},{"g":"Cldn4","s":"M_5","v":-0.9},{"g":"Cldn4","s":"M_6","v":-0.65},{"g":"Cldn4","s":"H_1","v":-0.2},{"g":"Cldn4","s":"H_2","v":-0.8},{"g":"Cldn4","s":"H_3","v":-0.72},{"g":"Cldn4","s":"H_4","v":-0.9},{"g":"Cldn4","s":"H_5","v":-0.3},{"g":"Cldn4","s":"H_6","v":-0.55},{"g":"Cldn4","s":"H_7","v":-0.55},
{"g":"Ppia","s":"C_1","v":-0.52},{"g":"Ppia","s":"C_2","v":-0.65},{"g":"Ppia","s":"C_3","v":-0.65},{"g":"Ppia","s":"C_4","v":-0.55},{"g":"Ppia","s":"C_5","v":-0.55},{"g":"Ppia","s":"C_6","v":-0.55},{"g":"Ppia","s":"L_1","v":-0.55},{"g":"Ppia","s":"L_2","v":-0.52},{"g":"Ppia","s":"L_3","v":-0.4},{"g":"Ppia","s":"L_4","v":-0.45},{"g":"Ppia","s":"L_5","v":-0.55},{"g":"Ppia","s":"L_6","v":-0.75},{"g":"Ppia","s":"L_7","v":-0.4},{"g":"Ppia","s":"M_1","v":-0.55},{"g":"Ppia","s":"M_2","v":-0.55},{"g":"Ppia","s":"M_3","v":-0.25},{"g":"Ppia","s":"M_4","v":-0.65},{"g":"Ppia","s":"M_5","v":-0.65},{"g":"Ppia","s":"M_6","v":-0.55},{"g":"Ppia","s":"H_1","v":-0.3},{"g":"Ppia","s":"H_2","v":-0.55},{"g":"Ppia","s":"H_3","v":-0.65},{"g":"Ppia","s":"H_4","v":-0.8},{"g":"Ppia","s":"H_5","v":-0.3},{"g":"Ppia","s":"H_6","v":-0.55},{"g":"Ppia","s":"H_7","v":-0.45},
{"g":"Pfkfb2","s":"C_1","v":0.7},{"g":"Pfkfb2","s":"C_2","v":-0.05},{"g":"Pfkfb2","s":"C_3","v":0.4},{"g":"Pfkfb2","s":"C_4","v":0.7},{"g":"Pfkfb2","s":"C_5","v":0.15},{"g":"Pfkfb2","s":"C_6","v":0.0},{"g":"Pfkfb2","s":"L_1","v":0.0},{"g":"Pfkfb2","s":"L_2","v":0.2},{"g":"Pfkfb2","s":"L_3","v":0.15},{"g":"Pfkfb2","s":"L_4","v":0.15},{"g":"Pfkfb2","s":"L_5","v":-0.25},{"g":"Pfkfb2","s":"L_6","v":0.75},{"g":"Pfkfb2","s":"L_7","v":0.9},{"g":"Pfkfb2","s":"M_1","v":0.7},{"g":"Pfkfb2","s":"M_2","v":0.2},{"g":"Pfkfb2","s":"M_3","v":-0.15},{"g":"Pfkfb2","s":"M_4","v":1.7},{"g":"Pfkfb2","s":"M_5","v":-0.3},{"g":"Pfkfb2","s":"M_6","v":0.9},{"g":"Pfkfb2","s":"H_1","v":0.7},{"g":"Pfkfb2","s":"H_2","v":0.9},{"g":"Pfkfb2","s":"H_3","v":0.7},{"g":"Pfkfb2","s":"H_4","v":0.7},{"g":"Pfkfb2","s":"H_5","v":1.25},{"g":"Pfkfb2","s":"H_6","v":0.5},{"g":"Pfkfb2","s":"H_7","v":0.7},
{"g":"Gga2","s":"C_1","v":-0.15},{"g":"Gga2","s":"C_2","v":0.0},{"g":"Gga2","s":"C_3","v":-0.3},{"g":"Gga2","s":"C_4","v":0.2},{"g":"Gga2","s":"C_5","v":0.15},{"g":"Gga2","s":"C_6","v":-0.15},{"g":"Gga2","s":"L_1","v":-0.15},{"g":"Gga2","s":"L_2","v":0.0},{"g":"Gga2","s":"L_3","v":-0.4},{"g":"Gga2","s":"L_4","v":-0.4},{"g":"Gga2","s":"L_5","v":0.0},{"g":"Gga2","s":"L_6","v":0.0},{"g":"Gga2","s":"L_7","v":-0.15},{"g":"Gga2","s":"M_1","v":-0.65},{"g":"Gga2","s":"M_2","v":0.5},{"g":"Gga2","s":"M_3","v":-0.1},{"g":"Gga2","s":"M_4","v":-0.3},{"g":"Gga2","s":"M_5","v":0.9},{"g":"Gga2","s":"M_6","v":1.25},{"g":"Gga2","s":"H_1","v":0.7},{"g":"Gga2","s":"H_2","v":0.35},{"g":"Gga2","s":"H_3","v":0.15},{"g":"Gga2","s":"H_4","v":-0.4},{"g":"Gga2","s":"H_5","v":-0.1},{"g":"Gga2","s":"H_6","v":0.5},{"g":"Gga2","s":"H_7","v":-0.3},
{"g":"Nup107","s":"C_1","v":0.2},{"g":"Nup107","s":"C_2","v":-0.1},{"g":"Nup107","s":"C_3","v":0.28},{"g":"Nup107","s":"C_4","v":0.15},{"g":"Nup107","s":"C_5","v":0.08},{"g":"Nup107","s":"C_6","v":0.28},{"g":"Nup107","s":"L_1","v":0.0},{"g":"Nup107","s":"L_2","v":-0.15},{"g":"Nup107","s":"L_3","v":-0.05},{"g":"Nup107","s":"L_4","v":0.0},{"g":"Nup107","s":"L_5","v":-0.05},{"g":"Nup107","s":"L_6","v":-0.15},{"g":"Nup107","s":"L_7","v":0.0},{"g":"Nup107","s":"M_1","v":0.2},{"g":"Nup107","s":"M_2","v":0.0},{"g":"Nup107","s":"M_3","v":0.9},{"g":"Nup107","s":"M_4","v":0.75},{"g":"Nup107","s":"M_5","v":0.0},{"g":"Nup107","s":"M_6","v":0.7},{"g":"Nup107","s":"H_1","v":0.28},{"g":"Nup107","s":"H_2","v":0.15},{"g":"Nup107","s":"H_3","v":0.0},{"g":"Nup107","s":"H_4","v":-0.1},{"g":"Nup107","s":"H_5","v":0.5},{"g":"Nup107","s":"H_6","v":0.28},{"g":"Nup107","s":"H_7","v":1.1},
{"g":"Sphk2","s":"C_1","v":-0.05},{"g":"Sphk2","s":"C_2","v":-0.25},{"g":"Sphk2","s":"C_3","v":-0.05},{"g":"Sphk2","s":"C_4","v":0.15},{"g":"Sphk2","s":"C_5","v":0.0},{"g":"Sphk2","s":"C_6","v":-0.05},{"g":"Sphk2","s":"L_1","v":0.0},{"g":"Sphk2","s":"L_2","v":-0.15},{"g":"Sphk2","s":"L_3","v":-0.1},{"g":"Sphk2","s":"L_4","v":-0.05},{"g":"Sphk2","s":"L_5","v":0.15},{"g":"Sphk2","s":"L_6","v":0.0},{"g":"Sphk2","s":"L_7","v":-0.1},{"g":"Sphk2","s":"M_1","v":0.35},{"g":"Sphk2","s":"M_2","v":-0.9},{"g":"Sphk2","s":"M_3","v":-0.8},{"g":"Sphk2","s":"M_4","v":-0.1},{"g":"Sphk2","s":"M_5","v":0.5},{"g":"Sphk2","s":"M_6","v":0.7},{"g":"Sphk2","s":"H_1","v":0.35},{"g":"Sphk2","s":"H_2","v":0.15},{"g":"Sphk2","s":"H_3","v":-0.05},{"g":"Sphk2","s":"H_4","v":0.5},{"g":"Sphk2","s":"H_5","v":-0.2},{"g":"Sphk2","s":"H_6","v":0.0},{"g":"Sphk2","s":"H_7","v":0.5},
{"g":"Nup58","s":"C_1","v":-0.05},{"g":"Nup58","s":"C_2","v":-0.1},{"g":"Nup58","s":"C_3","v":-0.1},{"g":"Nup58","s":"C_4","v":-0.1},{"g":"Nup58","s":"C_5","v":-0.05},{"g":"Nup58","s":"C_6","v":0.0},{"g":"Nup58","s":"L_1","v":0.0},{"g":"Nup58","s":"L_2","v":0.0},{"g":"Nup58","s":"L_3","v":-0.05},{"g":"Nup58","s":"L_4","v":-0.05},{"g":"Nup58","s":"L_5","v":0.08},{"g":"Nup58","s":"L_6","v":-0.05},{"g":"Nup58","s":"L_7","v":0.0},{"g":"Nup58","s":"M_1","v":0.2},{"g":"Nup58","s":"M_2","v":-0.4},{"g":"Nup58","s":"M_3","v":-0.3},{"g":"Nup58","s":"M_4","v":-0.1},{"g":"Nup58","s":"M_5","v":0.7},{"g":"Nup58","s":"M_6","v":0.7},{"g":"Nup58","s":"H_1","v":0.75},{"g":"Nup58","s":"H_2","v":0.0},{"g":"Nup58","s":"H_3","v":-0.05},{"g":"Nup58","s":"H_4","v":0.2},{"g":"Nup58","s":"H_5","v":0.7},{"g":"Nup58","s":"H_6","v":-0.05},{"g":"Nup58","s":"H_7","v":-0.25},
{"g":"Vamp2","s":"C_1","v":-0.15},{"g":"Vamp2","s":"C_2","v":0.0},{"g":"Vamp2","s":"C_3","v":0.0},{"g":"Vamp2","s":"C_4","v":-0.1},{"g":"Vamp2","s":"C_5","v":0.0},{"g":"Vamp2","s":"C_6","v":0.0},{"g":"Vamp2","s":"L_1","v":-0.25},{"g":"Vamp2","s":"L_2","v":-0.45},{"g":"Vamp2","s":"L_3","v":-0.45},{"g":"Vamp2","s":"L_4","v":-0.45},{"g":"Vamp2","s":"L_5","v":-0.05},{"g":"Vamp2","s":"L_6","v":0.28},{"g":"Vamp2","s":"L_7","v":-0.4},{"g":"Vamp2","s":"M_1","v":-0.25},{"g":"Vamp2","s":"M_2","v":-0.9},{"g":"Vamp2","s":"M_3","v":-0.1},{"g":"Vamp2","s":"M_4","v":0.0},{"g":"Vamp2","s":"M_5","v":-0.25},{"g":"Vamp2","s":"M_6","v":0.0},{"g":"Vamp2","s":"H_1","v":0.0},{"g":"Vamp2","s":"H_2","v":-0.05},{"g":"Vamp2","s":"H_3","v":0.7},{"g":"Vamp2","s":"H_4","v":0.0},{"g":"Vamp2","s":"H_5","v":-0.05},{"g":"Vamp2","s":"H_6","v":0.0},{"g":"Vamp2","s":"H_7","v":-0.2},
{"g":"Htt","s":"C_1","v":-0.1},{"g":"Htt","s":"C_2","v":0.0},{"g":"Htt","s":"C_3","v":-0.05},{"g":"Htt","s":"C_4","v":0.0},{"g":"Htt","s":"C_5","v":0.15},{"g":"Htt","s":"C_6","v":0.0},{"g":"Htt","s":"L_1","v":0.6},{"g":"Htt","s":"L_2","v":-0.15},{"g":"Htt","s":"L_3","v":-0.1},{"g":"Htt","s":"L_4","v":-0.15},{"g":"Htt","s":"L_5","v":-0.05},{"g":"Htt","s":"L_6","v":-0.05},{"g":"Htt","s":"L_7","v":-0.1},{"g":"Htt","s":"M_1","v":-0.2},{"g":"Htt","s":"M_2","v":-0.4},{"g":"Htt","s":"M_3","v":-0.2},{"g":"Htt","s":"M_4","v":-0.05},{"g":"Htt","s":"M_5","v":-0.25},{"g":"Htt","s":"M_6","v":0.5},{"g":"Htt","s":"H_1","v":-0.05},{"g":"Htt","s":"H_2","v":-0.2},{"g":"Htt","s":"H_3","v":0.7},{"g":"Htt","s":"H_4","v":0.08},{"g":"Htt","s":"H_5","v":0.15},{"g":"Htt","s":"H_6","v":0.0},{"g":"Htt","s":"H_7","v":0.5},
{"g":"Ergic2","s":"C_1","v":-0.25},{"g":"Ergic2","s":"C_2","v":-0.15},{"g":"Ergic2","s":"C_3","v":-0.25},{"g":"Ergic2","s":"C_4","v":0.0},{"g":"Ergic2","s":"C_5","v":-0.15},{"g":"Ergic2","s":"C_6","v":-0.05},{"g":"Ergic2","s":"L_1","v":0.0},{"g":"Ergic2","s":"L_2","v":-0.05},{"g":"Ergic2","s":"L_3","v":-0.55},{"g":"Ergic2","s":"L_4","v":-0.2},{"g":"Ergic2","s":"L_5","v":-0.05},{"g":"Ergic2","s":"L_6","v":-0.25},{"g":"Ergic2","s":"L_7","v":-0.15},{"g":"Ergic2","s":"M_1","v":-0.45},{"g":"Ergic2","s":"M_2","v":-0.8},{"g":"Ergic2","s":"M_3","v":-0.25},{"g":"Ergic2","s":"M_4","v":-0.05},{"g":"Ergic2","s":"M_5","v":-0.1},{"g":"Ergic2","s":"M_6","v":0.7},{"g":"Ergic2","s":"H_1","v":-0.15},{"g":"Ergic2","s":"H_2","v":0.0},{"g":"Ergic2","s":"H_3","v":0.15},{"g":"Ergic2","s":"H_4","v":0.5},{"g":"Ergic2","s":"H_5","v":0.0},{"g":"Ergic2","s":"H_6","v":-0.95},{"g":"Ergic2","s":"H_7","v":0.5}
    ]},
    "mark":{"type":"rect"},
    "encoding":{"y":{"field":"g","type":"nominal","scale":{"type":"band","domain":["_annot","Gclc","Sdhb","Hdac6","Lyar","Ap1s1","Acsl5","Copz2","Mcu","Atg9a","Cib1","Fbn1","Snca","Slc38a7","Adam9","Tmem87b","Rab3a","Cdc42se1","Cln3","Nrxn3","Xpot","Eef1a2","Slc16a10","Cldn4","Ppia","Pfkfb2","Gga2","Nup107","Sphk2","Nup58","Vamp2","Htt","Ergic2"],"paddingInner":0,"paddingOuter":0},"axis":null},
     "color":{"field":"v","type":"quantitative","scale":{"domain":[-1,0.5,5.2],"range":["#0a14c8","#f0e0ea","#ff0000"],"interpolate":"rgb","clamp":true},"legend":null}}}
  ]},
 {"width":127,"height":326,
  "data":{"values":[
{"g":"Gclc","lab":"P19468_Gclc","i":0,"box":0},{"g":"Sdhb","lab":"P21913_Sdhb","i":1,"box":0},{"g":"Hdac6","lab":"A0A8I6GM68_Hdac6","i":2,"box":0},{"g":"Lyar","lab":"A0A0G2K5W6_Lyar","i":3,"box":0},{"g":"Ap1s1","lab":"B5DFI3_Ap1s1","i":4,"box":0},{"g":"Acsl5","lab":"A0A8I6AAN7_Acsl5","i":5,"box":0},{"g":"Copz2","lab":"D4ADP9_Copz2","i":6,"box":0},{"g":"Mcu","lab":"A0A8I6A2V9_Mcu","i":7,"box":0},{"g":"Atg9a","lab":"A0A8I6A9Q8_Atg9a","i":8,"box":0},{"g":"Cib1","lab":"A0A8I6A2I0_Cib1","i":9,"box":0},{"g":"Fbn1","lab":"G3V9M6_Fbn1","i":10,"box":0},{"g":"Snca","lab":"A0A8I5ZKK9_Snca","i":11,"box":1},{"g":"Slc38a7","lab":"Q6IWR2_Slc38a7","i":12,"box":1},{"g":"Adam9","lab":"A0A8I5Y224_Adam9","i":13,"box":0},{"g":"Tmem87b","lab":"D4A7B6_Tmem87b","i":14,"box":0},{"g":"Rab3a","lab":"A0A8L2QE16_Rab3a","i":15,"box":0},{"g":"Cdc42se1","lab":"Q5BJM7_Cdc42se1","i":16,"box":0},{"g":"Cln3","lab":"A0A8I6ALZ9_Cln3","i":17,"box":0},{"g":"Nrxn3","lab":"A0A8I6A3D2_Nrxn3","i":18,"box":0},{"g":"Xpot","lab":"D3ZZ62_Xpot","i":19,"box":0},{"g":"Eef1a2","lab":"A0A8L2Q996_Eef1a2","i":20,"box":0},{"g":"Slc16a10","lab":"A0A0G2KAT0_Slc16a10","i":21,"box":2},{"g":"Cldn4","lab":"Q5XIT8_Cldn4","i":22,"box":0},{"g":"Ppia","lab":"A0A8L2R8V9_Ppia","i":23,"box":0},{"g":"Pfkfb2","lab":"Q9JJH5_Pfkfb2","i":24,"box":0},{"g":"Gga2","lab":"A0A0G2JYM3_Gga2","i":25,"box":0},{"g":"Nup107","lab":"P52590_Nup107","i":26,"box":0},{"g":"Sphk2","lab":"Q6AYB2_Sphk2","i":27,"box":0},{"g":"Nup58","lab":"A0A8I6G353_Nup58","i":28,"box":0},{"g":"Vamp2","lab":"A0A8I5ZNB8_Vamp2","i":29,"box":0},{"g":"Htt","lab":"A0A8I5Y907_Htt","i":30,"box":0},{"g":"Ergic2","lab":"A0A0G2JYN4_Ergic2","i":31,"box":0}
  ]},
  "encoding":{"x":{"datum":0,"type":"quantitative","scale":{"domain":[0,127],"nice":false},"axis":null},"y":{"field":"i","type":"quantitative","scale":{"domain":[-1.5,31.5],"reverse":true,"nice":false,"zero":false},"axis":null}},
  "layer":[
   {"mark":{"type":"text","align":"left","baseline":"middle","dx":2,"fontSize":10,"fontWeight":"bold","color":"#111"},"encoding":{"text":{"field":"lab"}}},
   {"transform":[{"filter":"datum.box == 1"}],"mark":{"type":"point","shape":"M0,-1h19.4v2h-19.4Z","filled":false,"color":"#e8141c","stroke":"#e8141c","strokeWidth":1.5,"size":97.5,"opacity":1},"encoding":{"x":{"datum":0.5,"type":"quantitative"}}},
   {"transform":[{"filter":"datum.box == 2"}],"mark":{"type":"point","shape":"M0,-1h25.5v2h-25.5Z","filled":false,"color":"#e8141c","stroke":"#e8141c","strokeWidth":1.5,"size":97.5,"opacity":1},"encoding":{"x":{"datum":0.5,"type":"quantitative"}}},
   {"data":{"values":[{"i":-0.5,"b":31.5}]},"mark":{"type":"rule","color":"#111","strokeWidth":1.2},"encoding":{"y2":{"field":"b"}}}
  ]},
 {"width":12,"height":326,
  "encoding":{"x":{"datum":0,"type":"quantitative","scale":{"domain":[0,1],"nice":false},"axis":null}},
  "layer":[
   {"data":{"values":[{"lo":-1,"hi":5.2}]},
    "mark":{"type":"rect","color":{"gradient":"linear","x1":0,"y1":0,"x2":0,"y2":1,"stops":[{"offset":0,"color":"#ff0000"},{"offset":0.758,"color":"#f0e0ea"},{"offset":1,"color":"#0a14c8"}]}},
    "encoding":{"x2":{"datum":1},"y":{"field":"lo","type":"quantitative","scale":{"domain":[-1.13,5.96],"nice":false,"zero":false},"axis":null},"y2":{"field":"hi"}}},
   {"data":{"values":[{"val":5.2,"t":"5.2"}]},"mark":{"type":"text","fontSize":16,"color":"#222","baseline":"middle","align":"center","dy":-20},"encoding":{"x":{"datum":0.5,"type":"quantitative"},"y":{"field":"val","type":"quantitative"},"text":{"field":"t"}}},
   {"data":{"values":[{"val":-1,"t":"-1.0"}]},"mark":{"type":"text","fontSize":16,"color":"#222","baseline":"middle","align":"center","dy":20},"encoding":{"x":{"datum":0.5,"type":"quantitative"},"y":{"field":"val","type":"quantitative"},"text":{"field":"t"}}}
  ]}
],"spacing":0,"bounds":"flush","resolve":{"scale":{"color":"independent","fill":"independent"},"legend":{"color":"independent","fill":"independent"}}}
]
}
